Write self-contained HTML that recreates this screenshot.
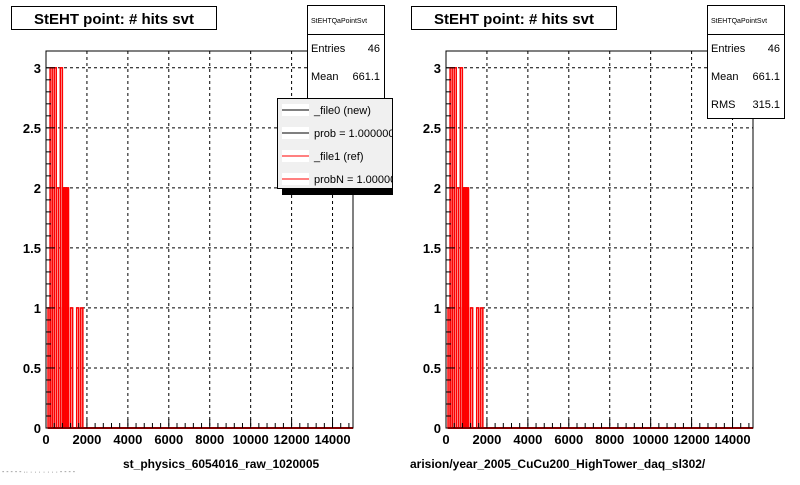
<!DOCTYPE html>
<html><head><meta charset="utf-8"><style>
body{margin:0;background:#fff;width:800px;height:480px;overflow:hidden;font-family:"Liberation Sans",Arial,sans-serif}
svg text{font-family:"Liberation Sans",Arial,sans-serif}
</style></head><body>
<svg id="c" width="800" height="480" xmlns="http://www.w3.org/2000/svg">
</svg>
<script>
const binEdges = [100,200,300,400,500,600,700,800,900,1000,1100,1200,1300,1400,1500,1600,1700];
const refCounts = [1,3,2,3,2,1,3,2,2,2,0,1,0,0,1,0,1];
const newCounts = [1,3,2,3,2,1,3,2,2,2,0,1,0,0,1,0,1];
const xTicks = [0,2000,4000,6000,8000,10000,12000,14000];
const yTicks = [0,0.5,1,1.5,2,2.5,3];
const binWidth = 100;
const xMax = 15000, yMax = 3.14;
const svg = document.getElementById('c');
const NS = 'http://www.w3.org/2000/svg';
function mk(tag, attrs, parent){const e=document.createElementNS(NS,tag);for(const k in attrs)e.setAttribute(k,attrs[k]);(parent||svg).appendChild(e);return e;}
function panel(px, title, legend, bottomText, stats){
  const L=px+46, R=px+353, T=51, B=428;
  const g=mk('g',{});
  
  
  const sx=v=>L+(v/xMax)*(R-L), sy=v=>B-(v/yMax)*(B-T);
  // grid
  xTicks.slice(1).forEach(t=>{const l=mk('line',{x1:sx(t),x2:sx(t),y1:T,y2:B,stroke:'#000','stroke-dasharray':'3,3','stroke-width':1},g);
    });
  yTicks.slice(1).forEach(t=>{const l=mk('line',{x1:L,x2:R,y1:sy(t),y2:sy(t),stroke:'#000','stroke-dasharray':'3,3','stroke-width':1},g);
    });
  // bars
  binEdges.forEach((e,i)=>{
    if(newCounts[i]>0){const r=mk('rect',{x:sx(e),y:sy(newCounts[i]),width:sx(e+binWidth)-sx(e),height:B-sy(newCounts[i]),fill:'none',stroke:'#000','stroke-width':1},g);
      }
    if(refCounts[i]>0){const r=mk('rect',{x:sx(e),y:sy(refCounts[i]),width:sx(e+binWidth)-sx(e),height:B-sy(refCounts[i]),fill:(refCounts[i]===2&&i>=7)?'#f00':'none',stroke:'#f00','stroke-width':1.5},g);
      }
  });
  const base=mk('line',{x1:sx(binEdges[0]),x2:R,y1:B,y2:B,stroke:'#f00','stroke-width':2},g);
  
  // frame
  const f=mk('rect',{x:L,y:T,width:R-L,height:B-T,fill:'none',stroke:'#000','stroke-width':1},g);
  
  // x ticks
  for(let v=0;v<=xMax;v+=400){const big=v%2000===0;mk('line',{x1:sx(v),x2:sx(v),y1:B,y2:B-(big?9:5),stroke:'#000'},g);}
  xTicks.forEach(t=>{const tx=mk('text',{x:sx(t),y:B+16,'text-anchor':'middle','font-size':13,'font-weight':'bold'},g);tx.textContent=t;
    });
  for(let v=0;v<=3.1;v+=0.1){const big=Math.abs(v*2-Math.round(v*2))<1e-6;mk('line',{x1:L,x2:L+(big?9:5),y1:sy(v),y2:sy(v),stroke:'#000'},g);}
  yTicks.forEach(t=>{const tx=mk('text',{x:L-5,y:sy(t)+5,'text-anchor':'end','font-size':13,'font-weight':'bold'},g);tx.textContent=t;
    });
  // title
  const tb=mk('rect',{x:px+11.5,y:6.5,width:205,height:23,fill:'#fff',stroke:'#000'},g);
  
  const tt=mk('text',{x:px+114,y:24,'text-anchor':'middle','font-size':15,'font-weight':'bold'},g);tt.textContent=title;
  
  // stats
  const sb=mk('rect',{x:px+307.5,y:5.5,width:77,height:113,fill:'#fff',stroke:'#000'},g);
  
  mk('line',{x1:px+307.5,x2:px+384.5,y1:34.5,y2:34.5,stroke:'#000'},g);
  const sn=mk('text',{x:px+311,y:23,'font-size':7},g);sn.textContent='StEHTQaPointSvt';
  
  stats.forEach((s,i)=>{const y=52+i*28;
    const a=mk('text',{x:px+311,y:y,'font-size':11},g);a.textContent=s[0];
    
    const b=mk('text',{x:px+380,y:y,'font-size':11,'text-anchor':'end'},g);b.textContent=s[1];
    });
  if(legend){
    mk('rect',{x:px+282,y:103,width:115,height:92,fill:'#000'},g);
    const lb=mk('rect',{x:px+277.5,y:98.5,width:115,height:90,fill:'#f0f0f0',stroke:'#000'},g);
    
    [['_file0 (new)','#000'],['prob = 1.000000','#000'],['_file1 (ref)','#f00'],['probN = 1.000000','#f00']].forEach((e,i)=>{
      const y=110+i*23;
      mk('rect',{x:px+282,y:y-6,width:27,height:12,fill:'#fff'},g);
      mk('line',{x1:px+282,x2:px+309,y1:y,y2:y,stroke:e[1]},g);
      const t=mk('text',{x:px+314,y:y+4,'font-size':11},g);t.textContent=e[0];
      });
    mk('rect',{x:px+393,y:95,width:10,height:100,fill:'#fff'},g);
  }
  const bt=mk('text',{x:bottomText[1],y:468,'font-size':12,'font-weight':'bold'},g);bt.textContent=bottomText[0];
  
}
panel(0,'StEHT point: # hits svt',true,['st_physics_6054016_raw_1020005',123],[['Entries','46'],['Mean','661.1']]);
panel(400,'StEHT point: # hits svt',false,['arision/year_2005_CuCu200_HighTower_daq_sl302/',410],[['Entries','46'],['Mean','661.1'],['RMS','315.1']]);
const ft=mk('text',{x:2,y:474,'font-size':7,fill:'#666'});ft.textContent='- - -  -  - ·· ·  · · ·  · · ·  - - - -';

</script>
</body></html>
